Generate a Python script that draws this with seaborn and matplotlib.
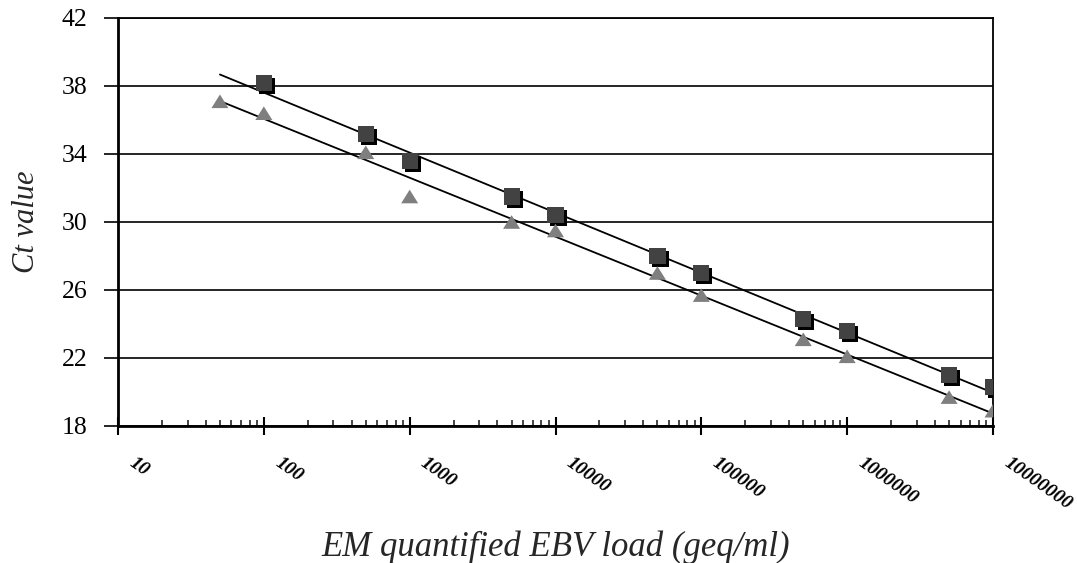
import numpy as np
import pandas as pd
import matplotlib
matplotlib.use("Agg")
import matplotlib.pyplot as plt
import matplotlib.transforms as mtransforms
from matplotlib.ticker import LogLocator, FixedLocator, NullFormatter
import seaborn as sns

# ---- data ----
sq_load = [1e2, 5e2, 1e3, 5e3, 1e4, 5e4, 1e5, 5e5, 1e6, 5e6, 1e7]
sq_ct = [38.2, 35.2, 33.6, 31.5, 30.4, 28.0, 27.0, 24.3, 23.6, 21.0, 20.3]

tri_load = [5e1, 1e2, 5e2, 1e3, 5e3, 1e4, 5e4, 1e5, 5e5, 1e6, 5e6, 1e7]
tri_ct = [37.1, 36.4, 34.1, 31.5, 30.0, 29.5, 27.0, 25.7, 23.1, 22.1, 19.7, 18.9]

x_ticks = [1e1, 1e2, 1e3, 1e4, 1e5, 1e6, 1e7]
x_tick_labels = ["10", "100", "1000", "10000", "100000", "1000000", "10000000"]
y_ticks = [18, 22, 26, 30, 34, 38, 42]

x_title = "EM quantified EBV load (geq/ml)"
y_title = "Ct value"

sq_df = pd.DataFrame({"load": sq_load, "ct": sq_ct})
tri_df = pd.DataFrame({"load": tri_load, "ct": tri_ct})

sns.set_style("white")
plt.rcParams["font.family"] = ["Liberation Serif", "DejaVu Serif"]

fig = plt.figure(figsize=(10.77, 5.63), dpi=100)
ax = fig.add_axes([118 / 1077, (563 - 426) / 563, 875 / 1077, 408 / 563])
ax.set_xscale("log")

# regression lines (log-linear fits, drawn across the full data range)
x_all = np.array(sq_load + tri_load)
x_line = np.logspace(np.log10(x_all.min()), np.log10(x_all.max()), 50)
for df in (sq_df, tri_df):
    k, b = np.polyfit(np.log10(df["load"]), df["ct"], 1)
    line_df = pd.DataFrame({"load": x_line, "ct": k * np.log10(x_line) + b})
    sns.lineplot(data=line_df, x="load", y="ct", ax=ax, color="black",
                 lw=1.3, zorder=3)

# squares with black drop shadow
shadow = mtransforms.offset_copy(ax.transData, fig=fig, x=3, y=-3, units="dots")
sns.scatterplot(data=sq_df, x="load", y="ct", ax=ax, marker="s", s=135,
                color="black", edgecolor="none", transform=shadow, zorder=4)
sns.scatterplot(data=sq_df, x="load", y="ct", ax=ax, marker="s", s=135,
                color="#424242", edgecolor="none", zorder=5)

tri_marker = [(0, 0.8), (-1, -0.8), (1, -0.8)]
sns.scatterplot(data=tri_df, x="load", y="ct", ax=ax, marker=tri_marker, s=150,
                color="#7f7f7f", edgecolor="none", zorder=5)

ax.set_xlim(10, 1e7)
ax.set_ylim(18, 42)

# y axis
ax.set_yticks(y_ticks)
ax.set_yticklabels([str(v) for v in y_ticks])
ax.tick_params(axis="y", direction="out", length=10, width=1.2, pad=12,
               labelsize=18.5, colors="black", left=True)
ax.yaxis.grid(True, color="black", lw=1.2)
ax.set_axisbelow(True)

# x axis
ax.xaxis.set_major_locator(FixedLocator(x_ticks))
ax.set_xticklabels(x_tick_labels, fontsize=14, fontweight="bold",
                   fontstyle="italic", rotation=-35, ha="left", va="top",
                   family="Liberation Serif")
ax.xaxis.set_minor_locator(LogLocator(base=10, subs=np.arange(2, 10)))
ax.xaxis.set_minor_formatter(NullFormatter())
ax.tick_params(axis="x", which="major", direction="inout", length=13,
               width=1.5, pad=14, bottom=True, colors="black")
ax.tick_params(axis="x", which="minor", direction="in", length=4,
               width=1.2, bottom=True)
shift = mtransforms.ScaledTranslation(8 / 100, 0, fig.dpi_scale_trans)
for lbl in ax.get_xticklabels():
    lbl.set_transform(lbl.get_transform() + shift)

for side in ("left", "right", "top", "bottom"):
    ax.spines[side].set_visible(True)
    ax.spines[side].set_color("black")
ax.spines["left"].set_linewidth(2)
ax.spines["bottom"].set_linewidth(2)
ax.spines["right"].set_linewidth(1.3)
ax.spines["top"].set_linewidth(1.3)

ax.set_xlabel(x_title, fontsize=25, fontstyle="italic", va="top")
ax.xaxis.set_label_coords(0.5, -0.255)
ax.set_ylabel(y_title, fontsize=22, fontstyle="italic")
ax.yaxis.set_label_coords(-0.088, 0.5)

fig.savefig("out.png", dpi=100)
